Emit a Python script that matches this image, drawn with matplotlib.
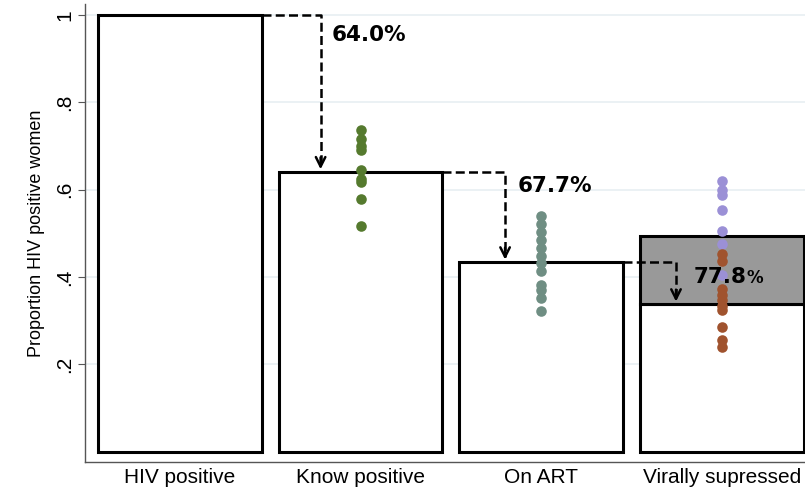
import matplotlib.pyplot as plt
import numpy as np

plt.rcParams['font.family'] = ['Liberation Sans', 'DejaVu Sans']

categories = ['HIV positive', 'Know positive', 'On ART', 'Virally supressed']
# cascade step ratios (share of the previous stage)
step_pct = [64.0, 67.7, 77.8]
vs_upper = 0.494

# survey-level estimates shown as dots beside each bar
know_pts = [0.737, 0.715, 0.700, 0.690, 0.645, 0.625, 0.618, 0.578, 0.516]
art_pts = [0.540, 0.521, 0.503, 0.484, 0.466, 0.448, 0.432, 0.414,
           0.381, 0.370, 0.352, 0.322]
vs_hi_pts = [0.620, 0.599, 0.588, 0.553, 0.505, 0.475, 0.404]
vs_lo_pts = [0.452, 0.436, 0.372, 0.359, 0.347, 0.333, 0.324, 0.285,
             0.255, 0.239]

heights = [1.0]
for p in step_pct:
    heights.append(heights[-1] * p / 100)

fig = plt.figure(figsize=(8.05, 4.87), dpi=100)
ax = fig.add_axes([85 / 805, 25 / 487, 720 / 805, 458 / 487])

x = np.arange(1, 5)
w = 0.906
for xi, h in zip(x, heights):
    ax.add_patch(plt.Rectangle((xi - w / 2, 0), w, h, facecolor='white',
                               edgecolor='black', lw=2.2, zorder=2))
ax.add_patch(plt.Rectangle((4 - w / 2, heights[3]), w, vs_upper - heights[3],
                           facecolor='#999999', edgecolor='black', lw=2.2,
                           zorder=2))

ax.scatter([2] * len(know_pts), know_pts, s=58, color='#557a2e', zorder=4,
           linewidths=0)
ax.scatter([3] * len(art_pts), art_pts, s=58, color='#6f8e83', zorder=4,
           linewidths=0)
ax.scatter([4] * len(vs_hi_pts), vs_hi_pts, s=58, color='#9b90d6', zorder=4,
           linewidths=0)
ax.scatter([4] * len(vs_lo_pts), vs_lo_pts, s=58, color='#a0532e', zorder=4,
           linewidths=0)

# dashed step arrows between stages
arrow_off = [0.221, 0.20, 0.254]
for i, p in enumerate(step_pct):
    x0 = x[i] + w / 2
    xa = x[i + 1] - arrow_off[i]
    top, nxt = heights[i], heights[i + 1]
    ax.plot([x0, xa, xa], [top, top, nxt + 0.012], ls=(0, (3.6, 1.7)),
            color='black', lw=1.8, zorder=5)
    ax.annotate('', xy=(xa, nxt), xytext=(xa, nxt + 0.04),
                arrowprops=dict(arrowstyle='->', color='black', lw=1.8,
                                mutation_scale=17), zorder=5)

ax.text(2 - 0.16, 0.955, '64.0%', fontsize=15.5, fontweight='bold',
        family='DejaVu Sans', va='center', zorder=6)
ax.text(3 - 0.13, 0.608, '67.7%', fontsize=15.5, fontweight='bold',
        family='DejaVu Sans', va='center', zorder=6)
t = ax.text(4 - 0.155, 0.40, '77.8', fontsize=15.5, fontweight='bold',
            family='DejaVu Sans', va='center', zorder=6)
ax.annotate('%', xy=(1, 0.45), xycoords=t, va='center', ha='left',
            fontsize=12, fontweight='bold', family='DejaVu Sans', zorder=6)

ax.set_xlim(0.475, 4.46)
ax.set_ylim(-0.024, 1.025)
ax.set_yticks([0.2, 0.4, 0.6, 0.8, 1.0])
ax.set_yticklabels(['.2', '.4', '.6', '.8', '1'], rotation=90, va='center',
                   fontsize=15)
ax.set_xticks(x)
ax.set_xticklabels(categories, fontsize=15)
ax.tick_params(axis='x', length=0, pad=4)
ax.tick_params(axis='y', length=5, color='#555555', pad=3)
ax.set_ylabel('Proportion HIV positive women', fontsize=13, labelpad=7)
ax.grid(axis='y', color='#e8eff2', lw=1.2, zorder=0)
ax.set_axisbelow(True)
for s in ['top', 'right']:
    ax.spines[s].set_visible(False)
for s in ['left', 'bottom']:
    ax.spines[s].set_color('#555555')
    ax.spines[s].set_linewidth(1.0)

fig.savefig('out.png', dpi=100)
